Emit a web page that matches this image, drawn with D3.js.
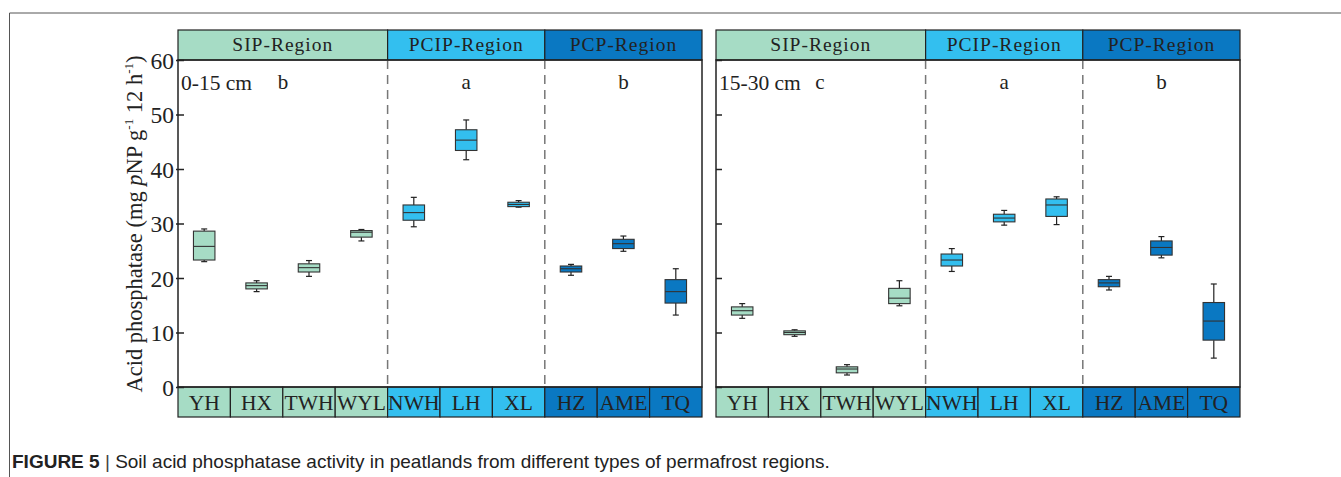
<!DOCTYPE html>
<html>
<head>
<meta charset="utf-8">
<script src="https://cdn.jsdelivr.net/npm/d3@7"></script>
<style>
  html, body { margin: 0; padding: 0; background: #fff; }
  svg { display: block; }
</style>
</head>
<body>
<svg id="chart" width="1341" height="477"></svg>
<script>
// ---------------- DATA ----------------
const categories = ["YH", "HX", "TWH", "WYL", "NWH", "LH", "XL", "HZ", "AME", "TQ"];
const regions = ["SIP-Region", "PCIP-Region", "PCP-Region"];
const regionOf = ["SIP-Region", "SIP-Region", "SIP-Region", "SIP-Region",
                  "PCIP-Region", "PCIP-Region", "PCIP-Region",
                  "PCP-Region", "PCP-Region", "PCP-Region"];
const regionColors = ["#a6dcc5", "#33bfef", "#0a78c2"];
const yTicks = [0, 10, 20, 30, 40, 50, 60];

// 0-15 cm
const d1Low    = [23.0, 17.5, 20.3, 26.8, 29.4, 41.7, 33.0, 20.5, 24.9, 13.2];
const d1Q1     = [23.3, 18.0, 21.1, 27.5, 30.6, 43.4, 33.1, 21.1, 25.4, 15.4];
const d1Median = [25.8, 18.6, 21.9, 28.4, 32.0, 45.3, 33.5, 21.7, 26.3, 17.5];
const d1Q3     = [28.6, 19.1, 22.6, 28.7, 33.4, 47.2, 33.9, 22.2, 27.1, 19.7];
const d1High   = [29.0, 19.5, 23.2, 28.9, 34.8, 49.0, 34.2, 22.5, 27.7, 21.7];
// 15-30 cm
const d2Low    = [12.6, 9.3, 2.2, 14.9, 21.2, 29.7, 29.8, 17.8, 23.7, 5.3];
const d2Q1     = [13.2, 9.6, 2.6, 15.3, 22.2, 30.3, 31.3, 18.4, 24.2, 8.6];
const d2Median = [14.0, 10.0, 3.3, 16.3, 23.3, 31.0, 33.4, 19.1, 25.6, 12.1];
const d2Q3     = [14.7, 10.3, 3.7, 18.1, 24.4, 31.7, 34.5, 19.7, 26.8, 15.5];
const d2High   = [15.3, 10.5, 4.1, 19.5, 25.4, 32.4, 34.9, 20.3, 27.6, 18.9];

const panelLabels = ["0-15 cm", "15-30 cm"];
const groupLetters1 = ["b", "a", "b"];
const groupLetters2 = ["c", "a", "b"];

// ---------------- LAYOUT ----------------
const svg = d3.select("#chart");
const serif = "'Liberation Serif', 'Times New Roman', serif";
const plotTop = 60, plotBottom = 387, headerTop = 30, footerBottom = 417;
const panelW = 524;
const panels = [
  { x0: 178, low: d1Low, q1: d1Q1, med: d1Median, q3: d1Q3, high: d1High, label: panelLabels[0], letters: groupLetters1, letterX0: 283, showLabels: true },
  { x0: 716, low: d2Low, q1: d2Q1, med: d2Median, q3: d2Q3, high: d2High, label: panelLabels[1], letters: groupLetters2, letterX0: 820, showLabels: false }
];

const y = d3.scaleLinear().domain([0, 60]).range([plotBottom, plotTop]);
const colorOf = d3.scaleOrdinal().domain(regions).range(regionColors);

// outer frame (page layout lines)
svg.append("line").attr("x1", 9.5).attr("x2", 9.5).attr("y1", 13).attr("y2", 477).attr("stroke", "#555").attr("stroke-width", 1);
svg.append("line").attr("x1", 9.5).attr("x2", 1341).attr("y1", 13).attr("y2", 13).attr("stroke", "#555").attr("stroke-width", 1);

panels.forEach((p, pi) => {
  const x = d3.scaleBand().domain(categories).range([p.x0, p.x0 + panelW]).padding(0);
  const bw = x.bandwidth();
  const g = svg.append("g");

  const spans = regions.map(r => {
    const idx = categories.filter((c, i) => regionOf[i] === r);
    return { r, x1: x(idx[0]), x2: x(idx[idx.length - 1]) + bw };
  });

  // header
  spans.forEach(s => {
    g.append("rect").attr("x", s.x1).attr("y", headerTop).attr("width", s.x2 - s.x1).attr("height", plotTop - headerTop)
      .attr("fill", colorOf(s.r)).attr("stroke", "#222").attr("stroke-width", 1.2);
    g.append("text").attr("x", (s.x1 + s.x2) / 2).attr("y", headerTop + 21)
      .attr("text-anchor", "middle").attr("font-family", serif).attr("font-size", 19.5)
      .attr("letter-spacing", 1).attr("fill", "#222").text(s.r);
  });

  // footer category cells
  categories.forEach((c, i) => {
    g.append("rect").attr("x", x(c)).attr("y", plotBottom).attr("width", bw).attr("height", footerBottom - plotBottom)
      .attr("fill", colorOf(regionOf[i])).attr("stroke", "#222").attr("stroke-width", 1.2);
    g.append("text").attr("x", x(c) + bw / 2).attr("y", plotBottom + 23)
      .attr("text-anchor", "middle").attr("font-family", serif).attr("font-size", 21.5)
      .attr("fill", "#222").text(c);
  });

  // dashed separators
  spans.slice(1).forEach(s => {
    g.append("line").attr("x1", s.x1).attr("x2", s.x1).attr("y1", plotTop).attr("y2", plotBottom)
      .attr("stroke", "#777").attr("stroke-width", 1.5).attr("stroke-dasharray", "9,6");
  });

  // plot border
  g.append("rect").attr("x", p.x0).attr("y", plotTop).attr("width", panelW).attr("height", plotBottom - plotTop)
    .attr("fill", "none").attr("stroke", "#222").attr("stroke-width", 1.5);

  // y axis ticks
  const axis = d3.axisLeft(y).tickValues(yTicks).tickSize(-6).tickPadding(p.showLabels ? 4 : 0)
    .tickFormat(p.showLabels ? d3.format("d") : () => "");
  const ag = g.append("g").attr("transform", `translate(${p.x0},0)`).call(axis);
  ag.select(".domain").remove();
  ag.selectAll(".tick line").attr("stroke", "#222").attr("stroke-width", 1.5).attr("x1", p.showLabels ? -2 : 0);
  ag.selectAll(".tick text").attr("font-family", serif).attr("font-size", 23.5).attr("fill", "#222")
    .attr("dy", "0.34em");

  // panel label + letters
  g.append("text").attr("x", p.x0 + 3).attr("y", 90).attr("font-family", serif).attr("font-size", 21.5).attr("fill", "#222").text(p.label);
  g.append("text").attr("x", p.letterX0).attr("y", 89).attr("text-anchor", "middle").attr("font-family", serif).attr("font-size", 21).attr("fill", "#222").text(p.letters[0]);
  spans.slice(1).forEach((s, k) => {
    g.append("text").attr("x", (s.x1 + s.x2) / 2).attr("y", 89).attr("text-anchor", "middle")
      .attr("font-family", serif).attr("font-size", 21).attr("fill", "#222").text(p.letters[k + 1]);
  });

  // boxes
  const boxW = bw * 0.41, capW = 6;
  categories.forEach((c, i) => {
    const cx = x(c) + bw / 2;
    const col = colorOf(regionOf[i]);
    g.append("line").attr("x1", cx).attr("x2", cx).attr("y1", y(p.high[i])).attr("y2", y(p.q3[i])).attr("stroke", "#222").attr("stroke-width", 1.2);
    g.append("line").attr("x1", cx).attr("x2", cx).attr("y1", y(p.q1[i])).attr("y2", y(p.low[i])).attr("stroke", "#222").attr("stroke-width", 1.2);
    g.append("line").attr("x1", cx - capW / 2).attr("x2", cx + capW / 2).attr("y1", y(p.high[i])).attr("y2", y(p.high[i])).attr("stroke", "#222").attr("stroke-width", 1.2);
    g.append("line").attr("x1", cx - capW / 2).attr("x2", cx + capW / 2).attr("y1", y(p.low[i])).attr("y2", y(p.low[i])).attr("stroke", "#222").attr("stroke-width", 1.2);
    g.append("rect").attr("x", cx - boxW / 2).attr("y", y(p.q3[i])).attr("width", boxW)
      .attr("height", Math.max(1, y(p.q1[i]) - y(p.q3[i])))
      .attr("fill", col).attr("stroke", "#333").attr("stroke-width", 1.1);
    g.append("line").attr("x1", cx - boxW / 2).attr("x2", cx + boxW / 2).attr("y1", y(p.med[i])).attr("y2", y(p.med[i]))
      .attr("stroke", "#333").attr("stroke-width", 1.1);
  });
});

// y-axis title
const yt = svg.append("text").attr("transform", "translate(142,224) rotate(-90)")
  .attr("text-anchor", "middle").attr("font-family", serif).attr("font-size", 22.5).attr("fill", "#222");
yt.append("tspan").text("Acid phosphatase (mg ");
yt.append("tspan").attr("font-style", "italic").text("p");
yt.append("tspan").text("NP g");
yt.append("tspan").attr("font-size", 13).attr("dy", -9).text("-1");
yt.append("tspan").attr("dy", 9).text(" 12 h");
yt.append("tspan").attr("font-size", 13).attr("dy", -9).text("-1");
yt.append("tspan").attr("dy", 9).text(")");

// caption
const cap = svg.append("text").attr("x", 12).attr("y", 468)
  .attr("font-family", "'Liberation Sans', Arial, sans-serif").attr("font-size", 19).attr("fill", "#222");
cap.append("tspan").attr("font-weight", "bold").text("FIGURE 5");
cap.append("tspan").attr("fill", "#444").text(" | ");
cap.append("tspan").text("Soil acid phosphatase activity in peatlands from different types of permafrost regions.");
</script>
</body>
</html>
